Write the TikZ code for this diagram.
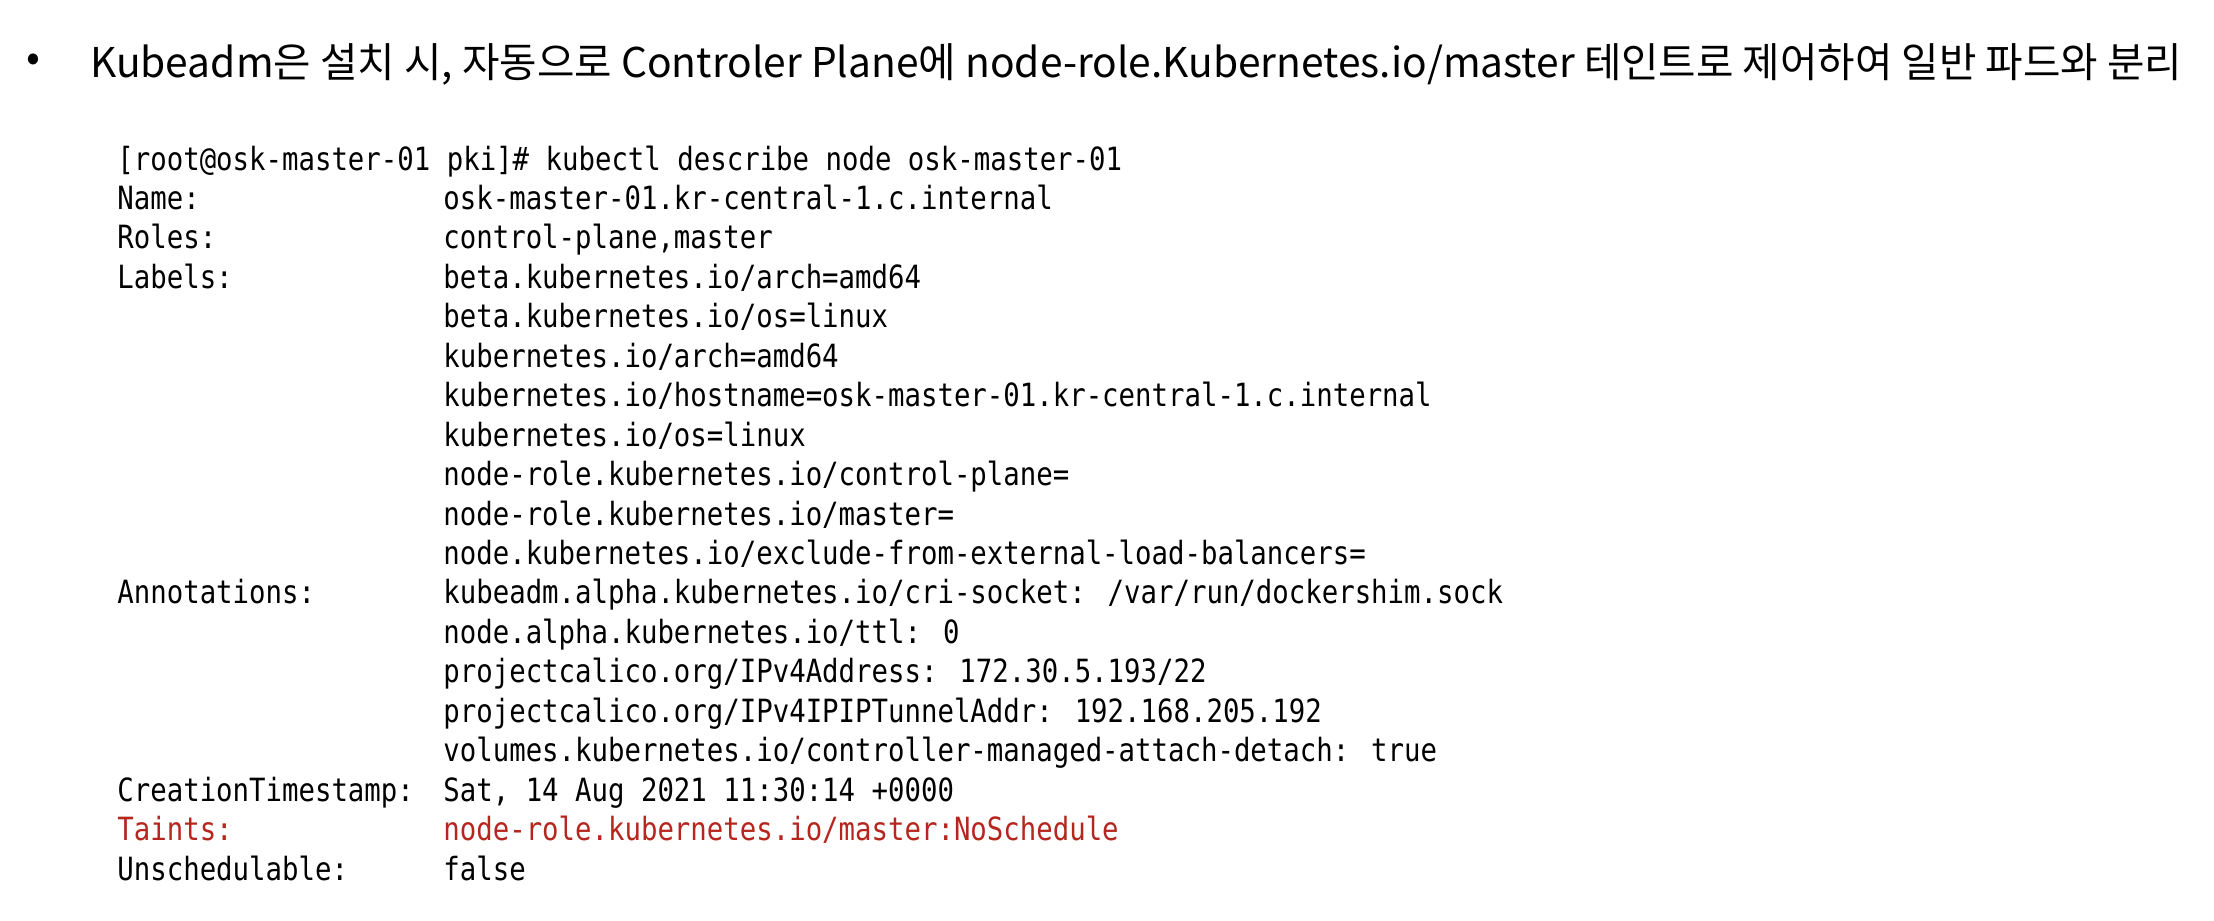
\documentclass[tikz,border=0pt]{standalone}
\usepackage{fontspec}
\usepackage{graphicx}
\setmainfont{Noto Sans CJK KR}
\newfontfamily\codefont{DejaVu Sans Mono}[FakeStretch=0.855]
\definecolor{taintred}{RGB}{181,38,30}
\tikzset{
  codeline/.style={font=\codefont\fontsize{16pt}{19pt}\selectfont, anchor=base west, inner sep=0pt},
  headline/.style={font=\fontsize{20.5pt}{24pt}\selectfont, anchor=base west, inner sep=0pt}
}

\begin{document}
\begin{tikzpicture}[x=0.5pt, y=-0.5pt]
      \useasboundingbox (0,0) rectangle (2214,920);

      % bullet and heading
      \node[headline, anchor=center] (dot) at (33,63) {•};
      \node[headline] (head) at (90,78)
        {\resizebox{1046pt}{\height}{Kubeadm은 설치 시, 자동으로 Controler Plane에 node-role.Kubernetes.io/master 테인트로 제어하여 일반 파드와 분리}};

      % command
      \node[codeline] (cmd) at (117,170) {[root@osk-master-01 pki]\# kubectl describe node osk-master-01};

      % left column
      \node[codeline] (name)   at (117,{170+39.45*1})  {Name:};
      \node[codeline] (roles)  at (117,{170+39.45*2})  {Roles:};
      \node[codeline] (labels) at (117,{170+39.45*3})  {Labels:};
      \node[codeline] (annot)  at (117,{170+39.45*11}) {Annotations:};
      \node[codeline] (ctime)  at (117,{170+39.45*16}) {CreationTimestamp:};
      \node[codeline, text=taintred] (taints) at (117,{170+39.45*17}) {Taints:};
      \node[codeline] (unsch)  at (117,{170+39.45*18}) {Unschedulable:};

      % right column
      \foreach \val [count=\i] in {
          {osk-master-01.kr-central-1.c.internal},
          {control-plane,master},
          {beta.kubernetes.io/arch=amd64},
          {beta.kubernetes.io/os=linux},
          {kubernetes.io/arch=amd64},
          {kubernetes.io/hostname=osk-master-01.kr-central-1.c.internal},
          {kubernetes.io/os=linux},
          {node-role.kubernetes.io/control-plane=},
          {node-role.kubernetes.io/master=},
          {node.kubernetes.io/exclude-from-external-load-balancers=},
          {kubeadm.alpha.kubernetes.io/cri-socket: /var/run/dockershim.sock},
          {node.alpha.kubernetes.io/ttl: 0},
          {projectcalico.org/IPv4Address: 172.30.5.193/22},
          {projectcalico.org/IPv4IPIPTunnelAddr: 192.168.205.192},
          {volumes.kubernetes.io/controller-managed-attach-detach: true},
          {Sat, 14 Aug 2021 11:30:14 +0000}}
        \node[codeline] (val\i) at (443,{170+39.45*\i}) {\val};
      \node[codeline, text=taintred] (val17) at (443,{170+39.45*17}) {node-role.kubernetes.io/master:NoSchedule};
      \node[codeline] (val18) at (443,{170+39.45*18}) {false};
    \end{tikzpicture}
\end{document}
